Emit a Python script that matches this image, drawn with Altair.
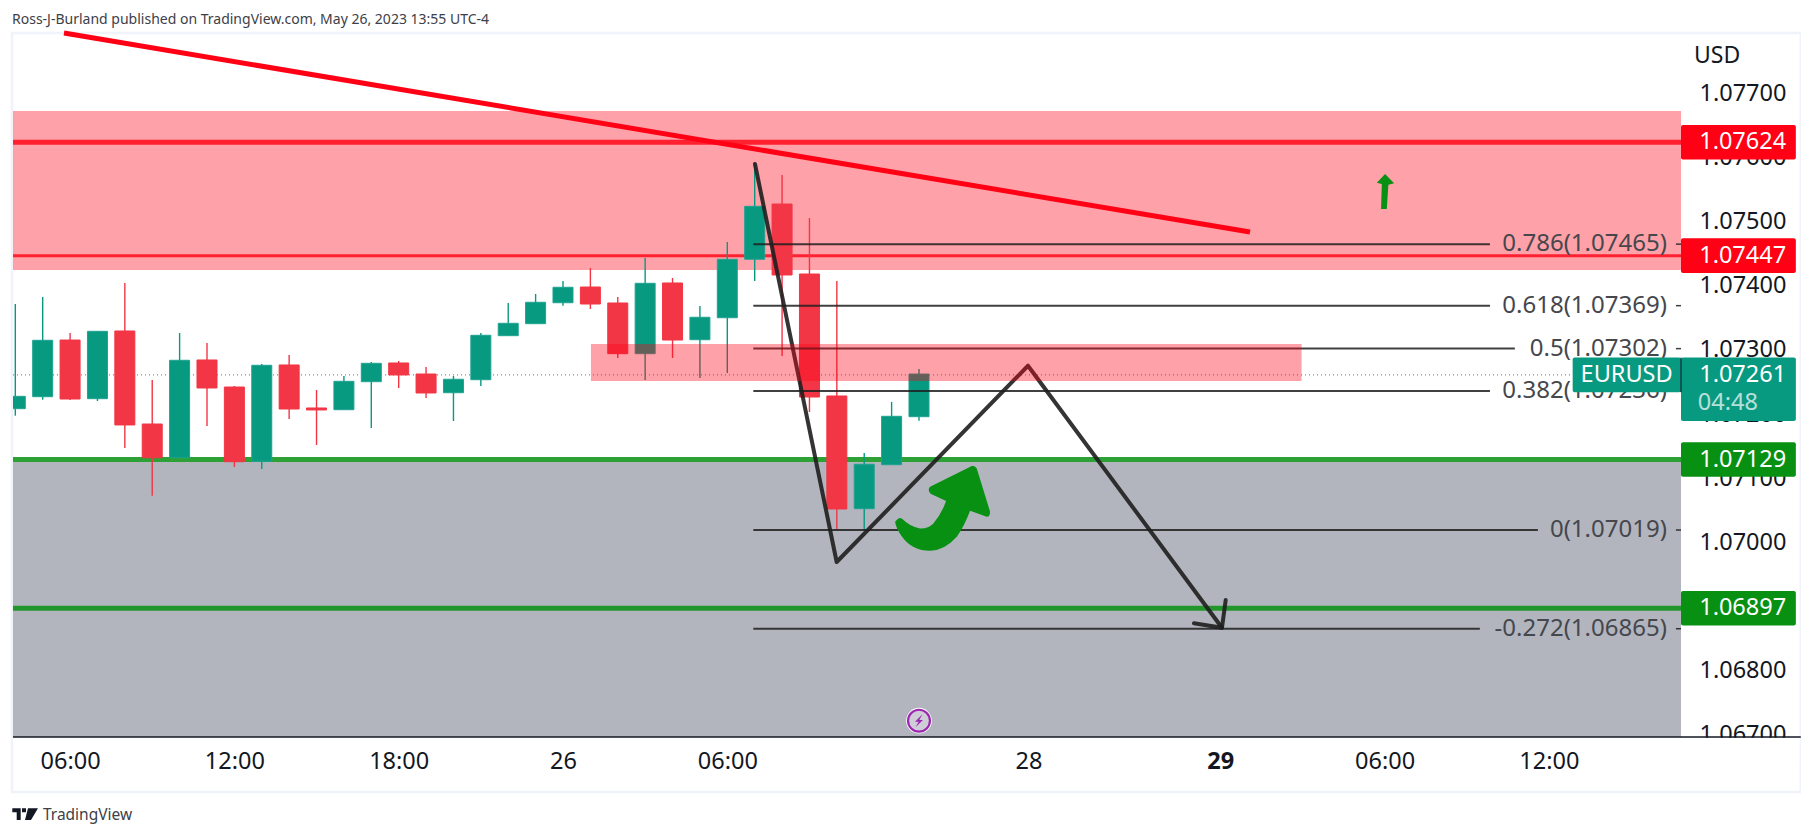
import altair as alt
import pandas as pd

FONT = "Noto Sans"
INK = "#131722"
DRAW = "#1e1e1e"
UP = "#089981"
DOWN = "#f23645"
RED = "#ff0015"
GREEN = "#089012"

# ---- data: 1h candles (hour index, open, high, low, close)
hours = list(range(4, 38))
opens = [1.072083, 1.07227, 1.073154, 1.072239, 1.073295, 1.071844, 1.071318, 1.072843, 1.072421, 1.071262,
         1.072765, 1.072094, 1.072067, 1.072504, 1.072796, 1.072624, 1.072332, 1.072535, 1.073222, 1.073409,
         1.073736, 1.073981, 1.073732, 1.072941, 1.074044, 1.073159, 1.073502, 1.074414, 1.075276, 1.074184,
         1.072281, 1.070523, 1.071209, 1.071958]
highs = [1.073716, 1.073825, 1.073264, 1.073295, 1.074044, 1.072531, 1.073264, 1.073108, 1.072437, 1.07278,
         1.072921, 1.072375, 1.072593, 1.072811, 1.072827, 1.072733, 1.072593, 1.073264, 1.073732, 1.073872,
         1.074075, 1.074278, 1.073825, 1.074434, 1.074122, 1.073685, 1.074683, 1.075916, 1.075729, 1.075058,
         1.074075, 1.071392, 1.072187, 1.072702]
lows = [1.071974, 1.072223, 1.072219, 1.072203, 1.07147, 1.070726, 1.071318, 1.071813, 1.071173, 1.071142,
        1.071922, 1.071517, 1.072063, 1.071782, 1.072406, 1.07225, 1.071891, 1.072437, 1.073222, 1.073409,
        1.07369, 1.073638, 1.072874, 1.072531, 1.072874, 1.072562, 1.07264, 1.074075, 1.072905, 1.072031,
        1.070202, 1.07019, 1.071209, 1.071896]
closes = [1.072276, 1.07315, 1.072234, 1.07329, 1.071829, 1.071318, 1.072838, 1.072406, 1.071256, 1.07276,
          1.072078, 1.072063, 1.07251, 1.072791, 1.072609, 1.072328, 1.072542, 1.073228, 1.073415, 1.073743,
          1.073977, 1.073716, 1.072941, 1.074039, 1.073154, 1.073509, 1.074414, 1.07524, 1.074169, 1.072265,
          1.070518, 1.071216, 1.071964, 1.072624]

# ---- axes
x_min, x_max = 3.916, 64.826
y_min, y_max = 1.066961, 1.077944
price_ticks = [1.067, 1.068, 1.069, 1.07, 1.071, 1.072, 1.073, 1.074, 1.075, 1.076, 1.077]
time_ticks = [6, 12, 18, 24, 30, 41, 48, 54, 60]
time_labels = ["06:00", "12:00", "18:00", "26", "06:00", "28", "29", "06:00", "12:00"]

# ---- drawings
green_levels = [1.07129, 1.06897]
red_levels = [(1.07624, 5), (1.07447, 3)]
last_price = 1.07261
fib_levels = [1.07465, 1.07369, 1.07302, 1.07236, 1.07019, 1.06865]
fib_ends = [57.85, 57.85, 58.76, 57.85, 59.6, 57.48]
fib_texts = ["0.786(1.07465)", "0.618(1.07369)", "0.5(1.07302)", "0.382(1.07236)", "0(1.07019)", "-0.272(1.06865)"]
trend_h = [5.778, 49.087]
trend_p = [1.077944, 1.07484]
zig_h = [31.011, 33.994, 40.98, 48.064]
zig_p = [1.0759, 1.069691, 1.072753, 1.068666]
head_h = [47.04, 48.064, 48.2]
head_p = [1.068735, 1.068666, 1.069098]

df = pd.DataFrame(dict(h=hours, o=opens, hi=highs, lo=lows, c=closes))
df["up"] = df.c >= df.o

label_expr = "{" + ",".join(f"'{t}':'{l}'" for t, l in zip(time_ticks, time_labels)) + "}[datum.value]"

xs = alt.Scale(domain=[x_min, x_max], nice=False, zero=False, padding=0)
ys = alt.Scale(domain=[y_min, y_max], nice=False, zero=False, padding=0)
AX = alt.Axis(
    values=time_ticks, labelExpr=label_expr, grid=False, ticks=False, domain=False,
    labelFont=FONT, labelFontSize=23.5, labelColor=INK, labelPadding=12, labelOverlap=False,
    labelBound=False, labelFlush=False, title=None,
    labelFontWeight=alt.condition("datum.value == 48", alt.value("bold"), alt.value("normal")),
)
AY = alt.Axis(
    orient="right", values=price_ticks, format=".5f", grid=False, ticks=False, domain=False,
    labelFont=FONT, labelFontSize=23.5, labelColor=INK, labelPadding=18, labelOverlap=False,
    labelBound=False, labelFlush=False, labelAlign="left", title=None,
)
X = alt.X("h:Q", scale=xs, axis=AX)
Y = alt.Y("p:Q", scale=ys, axis=AY)


def rects(rows, **mark):
    d = pd.DataFrame(rows, columns=["h", "h2", "p", "p2"])
    return alt.Chart(d).mark_rect(**mark).encode(X, x2="h2:Q", y=Y, y2="p2:Q")


def rules(rows, **mark):
    d = pd.DataFrame(rows, columns=["h", "h2", "p"])
    return alt.Chart(d).mark_rule(**mark).encode(X, x2="h2:Q", y=Y)


def texts(rows, **mark):
    d = pd.DataFrame(rows, columns=["h", "p", "t"])
    opts = dict(font=FONT, baseline="middle", align="left", color=INK)
    opts.update(mark)
    return alt.Chart(d).mark_text(**opts).encode(X, Y, text="t:N")


def poly(hs, ps, **mark):
    d = pd.DataFrame(dict(h=hs, p=ps))
    return alt.Chart(d).mark_line(**mark).encode(X, Y)


def glyph(h, p, path, color):
    d = pd.DataFrame(dict(h=[h], p=[p]))
    return alt.Chart(d).mark_point(shape=path, size=4, filled=True, color=color, opacity=1, strokeWidth=0).encode(X, Y)


wick_enc = dict(x=X, y=alt.Y("lo:Q", scale=ys, axis=AY), y2="hi:Q")
body_enc = dict(x=X, y=alt.Y("o:Q", scale=ys, axis=AY), y2="c:Q")
up_df, down_df = df[df.up], df[~df.up]

layers = [
    rects([(3.88, 69.2, y_max, 1.066103)], fill="#ffffff", fillOpacity=0, stroke="#f0f3fa", strokeWidth=2.5),
    rects([(x_min, x_max, 1.071251, y_min)], fill="#b2b5be"),
    rects([(x_min, x_max, 1.076727, 1.074246)], fill=RED, fillOpacity=0.37),
    rects([(64.85, 69.15, y_min - 0.00001, y_min - 0.0004)], fill="#ffffff"),
    rules([(x_min, x_max, p) for p in green_levels], color=GREEN, strokeWidth=5, opacity=0.85),
    rules([(x_min, x_max, red_levels[0][0])], color="#ff2030", strokeWidth=red_levels[0][1]),
    rules([(x_min, x_max, red_levels[1][0])], color="#ff2030", strokeWidth=red_levels[1][1]),
    rules([(x_min, 60.87, last_price)], color=UP, strokeWidth=1, strokeDash=[1, 3]),
    alt.Chart(up_df).mark_rule(color=UP, strokeWidth=1.4, clip=True).encode(**wick_enc),
    alt.Chart(down_df).mark_rule(color=DOWN, strokeWidth=1.4, clip=True).encode(**wick_enc),
    alt.Chart(up_df).mark_bar(size=20, color=UP, stroke="#1fa392", strokeWidth=1, clip=True).encode(**body_enc),
    alt.Chart(down_df).mark_bar(size=20, color=DOWN, stroke=DOWN, strokeWidth=1, clip=True).encode(**body_enc),
    rules([(30.95, e, p) for e, p in zip(fib_ends, fib_levels)], color=DRAW, strokeWidth=2, opacity=0.85),
    rules([(64.64, x_max, p) for p in fib_levels], color=DRAW, strokeWidth=1.5, opacity=0.85),
    poly(zig_h, zig_p, color=DRAW, strokeWidth=4, opacity=0.9, strokeCap="round", strokeJoin="round"),
    poly(head_h, head_p, color=DRAW, strokeWidth=4, opacity=0.9, strokeCap="round", strokeJoin="round"),
    rects([(25.02, 50.97, 1.073092, 1.072515)], fill=RED, fillOpacity=0.37),
    poly(trend_h, trend_p, color=RED, strokeWidth=5),
    glyph(37.77, 1.070554,
          "M-43.3 13.3 Q-41 10 -38 12 Q-30 20 -20 21.7 Q-12 22 -6.7 16.7 Q1 8 6 -5.7 L-9.5 -13 "
          "Q-13 -17 -10 -20 L31.7 -40.7 Q35 -41 36.7 -38.3 L50 5 Q50 10 46.7 10 L30 4 "
          "Q24 20 16.7 30 Q4 44 -10 44 Q-28 44 -38 30 Q-44 22 -45 15 Z", GREEN),
    glyph(54.02, 1.075495,
          "M0 -16 L-8.3 -7.3 L-3.3 -6 L-4 19 L1.7 19 L3.3 -5.3 L9 -6.7 Z", GREEN),
    alt.Chart(pd.DataFrame(dict(h=[37], p=[1.067215]))).mark_point(
        shape="circle", size=660, filled=True, color="#ffffff", opacity=1, strokeWidth=0).encode(X, Y),
    alt.Chart(pd.DataFrame(dict(h=[37], p=[1.067215]))).mark_point(
        shape="circle", size=480, fill="#cfcdd8", stroke="#9c27b0", strokeWidth=2.2, opacity=1, filled=False).encode(X, Y),
    glyph(37, 1.067215, "M3.5 -6.5 L-4 1 L-0.3 1 L-3.5 6.5 L4 -0.8 L0.3 -0.8 Z", "#9c27b0"),
    texts([(64.31, p, t) for p, t in zip(fib_levels, fib_texts)], align="right", fontSize=24, color="#45474d"),
    # price scale tags
    rects([(x_max, 69.02, p + 0.00027, p - 0.00027) for p, _ in red_levels], fill=RED, cornerRadius=2),
    rects([(x_max, 69.02, p + 0.00027, p - 0.00027) for p in green_levels], fill=GREEN, cornerRadius=2),
    rects([(60.87, x_max, last_price + 0.00027, last_price - 0.00027)], fill=UP, cornerRadius=2),
    rects([(x_max, 69.02, last_price + 0.00027, 1.071892)], fill=UP, cornerRadius=2),
    alt.Chart(pd.DataFrame(dict(h=[x_max], p=[last_price + 0.00027], p2=[last_price - 0.00027]))).mark_rule(
        color=INK, strokeWidth=1).encode(X, Y, y2="p2:Q"),
    texts([(65.49, p, f"{p:.5f}") for p in [red_levels[0][0], red_levels[1][0]] + green_levels + [last_price]],
          fontSize=23.5, color="#ffffff"),
    texts([(62.84, last_price, "EURUSD")], align="center", fontSize=23.5, color="#ffffff"),
    texts([(65.44, 1.072176, "04:48")], fontSize=23.5, color="#ffffff", opacity=0.7),
    # bottom rule of the time scale and titles
    rules([(x_min, 69.2, y_min)], color=INK, strokeWidth=1.5),
    texts([(65.3, 1.07758, "USD")], fontSize=23),
    texts([(3.88, 1.078147, "Ross-J-Burland published on TradingView.com, May 26, 2023 13:55 UTC-4")],
          fontSize=14, color="#3d4048"),
    glyph(4.354, 1.065760,
          "M-12.7 -5.7 L-4.3 -5.7 L-4.3 6 L-8.3 6 L-8.3 -1.7 L-12.7 -1.7 Z "
          "M-3 -5.7 L1 -5.7 L1 -1.7 L-3 -1.7 Z M3 -5.7 L13 -5.7 L6 6 L0 6 Z", INK),
    texts([(5.01, 1.065744, "TradingView")], fontSize=15.5, color="#3d4048"),
]

chart = alt.layer(*layers).properties(
    width=1668, height=704,
    padding={"left": 5, "top": 25, "right": 120, "bottom": 90},
    autosize=alt.AutoSizeParams(type="none"),
    background="#ffffff",
).configure_view(strokeWidth=0)

chart.save("out.html", embed_options={"renderer": "svg", "actions": False})
